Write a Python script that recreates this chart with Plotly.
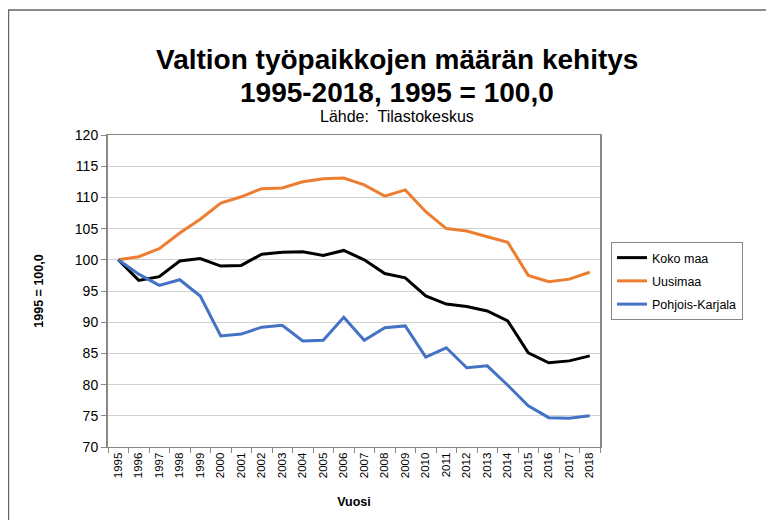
import plotly.graph_objects as go

years = [str(y) for y in range(1995, 2019)]
koko_maa = [100.0, 96.7, 97.3, 99.8, 100.2, 99.0, 99.1, 100.9, 101.2, 101.3, 100.7, 101.5,
            100.0, 97.8, 97.1, 94.2, 92.9, 92.5, 91.8, 90.2, 85.1, 83.5, 83.8, 84.6]
uusimaa = [100.0, 100.5, 101.8, 104.3, 106.5, 109.1, 110.1, 111.4, 111.5, 112.5, 113.0, 113.1,
           112.0, 110.2, 111.2, 107.7, 105.0, 104.6, 103.7, 102.8, 97.5, 96.5, 96.9, 98.0]
pohjois_karjala = [100.0, 97.7, 95.9, 96.8, 94.2, 87.8, 88.1, 89.2, 89.5, 87.0, 87.1, 90.8,
                   87.1, 89.1, 89.4, 84.4, 85.9, 82.7, 83.0, 79.9, 76.6, 74.7, 74.6, 75.0]
series_names = ["Koko maa", "Uusimaa", "Pohjois-Karjala"]
colors = ["#000000", "#ED7D31", "#4472C4"]

FONT = "Liberation Sans, Arial, sans-serif"
OFF = 8  # page body margin
W, H = 766, 512
L, T = 100, 127
R = W - 592
B = H - 439
pw, ph = W - L - R, H - T - B

def px(xpage):
    return (xpage - OFF - L) / pw

def py(ypage):
    return (H - B - (ypage - OFF)) / ph

fig = go.Figure()
for i, (name, vals, c) in enumerate(zip(series_names, [koko_maa, uusimaa, pohjois_karjala], colors)):
    fig.add_trace(go.Scatter(x=years, y=vals, name=name, mode="lines", legendgroup=f"g{i}",
                             line=dict(color=c, width=3)))

fig.update_layout(
    width=W, height=H,
    margin=dict(l=L, r=R, t=T, b=B),
    paper_bgcolor="white", plot_bgcolor="white",
    font=dict(family=FONT, color="#000000"),
    showlegend=True,
    legend=dict(x=px(611), y=py(242), xanchor="left", yanchor="top",
                bordercolor="#888888", borderwidth=1, bgcolor="white",
                font=dict(size=12.5, family=FONT), tracegroupgap=4,
                itemwidth=30),
    xaxis=dict(type="category", range=[-0.5, 23.5], tickson="boundaries",
               ticks="outside", ticklen=5, tickcolor="#888888",
               showline=True, linecolor="#888888", linewidth=1, mirror=True,
               showgrid=False, tickangle=-90, tickfont=dict(size=11.5, family=FONT),
               title=dict(text="<b>Vuosi</b>", font=dict(size=12.5, family=FONT), standoff=20)),
    yaxis=dict(range=[70, 120], dtick=5, ticks="outside", ticklen=5, tickcolor="#888888",
               showline=True, linecolor="#888888", linewidth=2, mirror=True,
               showgrid=True, gridcolor="#D0D0D0", gridwidth=1,
               tickfont=dict(size=14, family=FONT),
               title=dict(text="<b>1995 = 100,0</b>", font=dict(size=12.5, family=FONT), standoff=28)),
    annotations=[
        dict(text="<b>Valtion työpaikkojen määrän kehitys</b>",
             xref="paper", yref="paper", x=px(397), y=py(60), xanchor="center", yanchor="middle",
             showarrow=False, font=dict(size=28, family=FONT)),
        dict(text="<b>1995-2018, 1995 = 100,0</b>",
             xref="paper", yref="paper", x=px(397), y=py(92), xanchor="center", yanchor="middle",
             showarrow=False, font=dict(size=28, family=FONT)),
        dict(text="Lähde:  Tilastokeskus",
             xref="paper", yref="paper", x=px(397), y=py(116), xanchor="center", yanchor="middle",
             showarrow=False, font=dict(size=16, family=FONT)),
    ],
    shapes=[
        dict(type="rect", xref="paper", yref="paper", x0=px(8.5), x1=px(770), y0=py(540), y1=py(10),
             line=dict(color="#666666", width=1.5), fillcolor="rgba(0,0,0,0)", layer="below"),
    ],
)

fig.write_html("out.html")
